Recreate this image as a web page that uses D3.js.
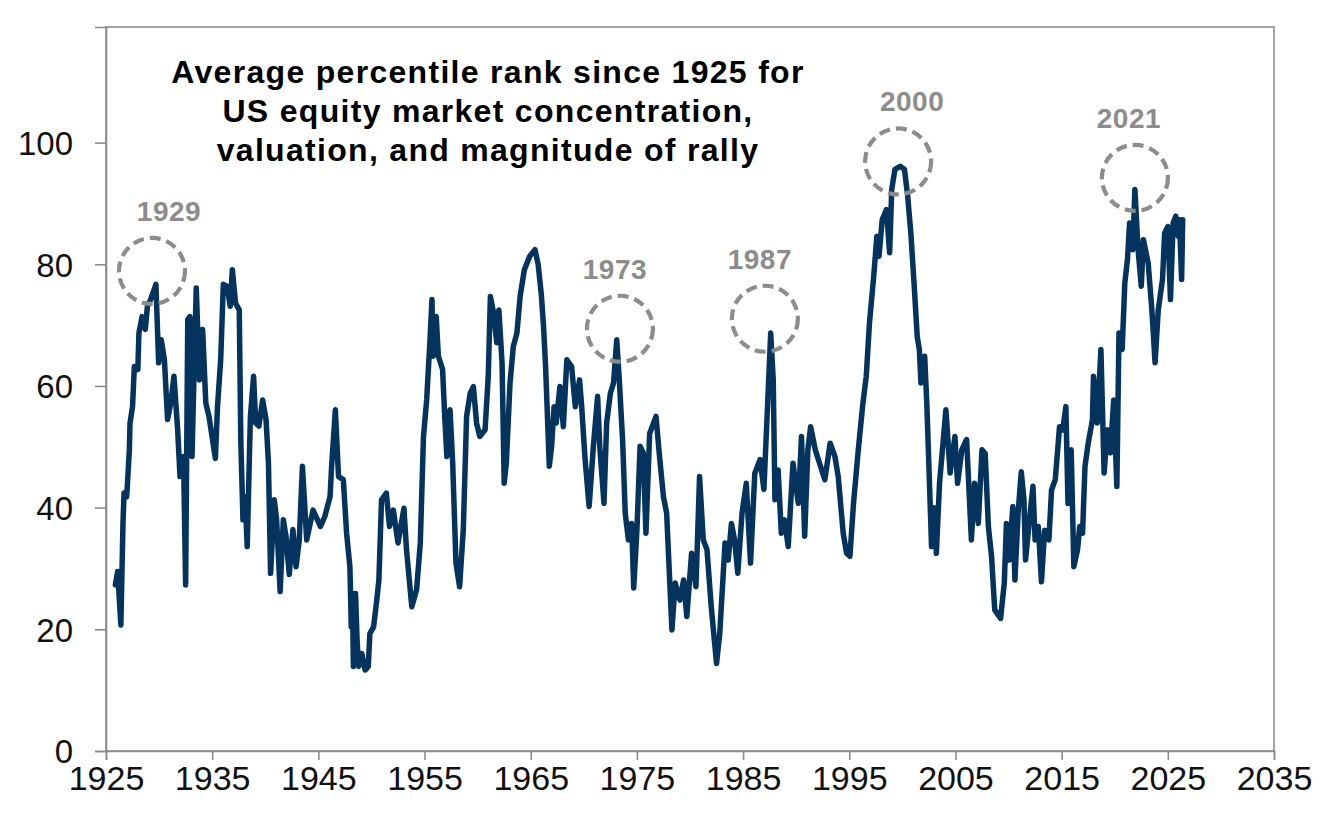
<!DOCTYPE html>
<html><head><meta charset="utf-8">
<script src="https://cdn.jsdelivr.net/npm/d3@7"></script>
<style>
html,body{margin:0;padding:0;background:#fff;}
svg{display:block;}
</style></head>
<body>
<svg id="chart" width="1327" height="815"></svg>
<script>
// ---- data ----
const titleLines = ["Average percentile rank since 1925 for", "US equity market concentration,", "valuation, and magnitude of rally"];
const xTicks = [1925, 1935, 1945, 1955, 1965, 1975, 1985, 1995, 2005, 2015, 2025, 2035];
const yTicks = [0, 20, 40, 60, 80, 100];
const points = [
[1925.88,27.3],[1926.1,29.5],[1926.4,20.7],[1926.6,37.5],[1926.7,42.4],[1926.95,41.8],[1927.2,49.5],[1927.26,53.9],[1927.5,56.6],[1927.67,63.2],[1928.0,62.7],[1928.1,68.7],[1928.4,71.4],[1928.7,69.3],[1928.9,73.1],[1929.2,74.2],[1929.7,76.7],[1929.96,63.8],[1930.2,67.6],[1930.5,64.3],[1930.8,54.5],[1931.1,57.2],[1931.4,61.6],[1931.75,52.8],[1931.97,45.1],[1932.3,48.4],[1932.5,27.3],[1932.7,70.9],[1932.9,71.4],[1933.1,48.4],[1933.3,62.7],[1933.5,76.1],[1933.8,61],[1934.1,69.3],[1934.4,57.2],[1934.7,55],[1935.3,48.1],[1935.5,56.6],[1935.8,64.3],[1936.05,76.7],[1936.4,76.4],[1936.7,73.1],[1936.9,79.1],[1937.2,73.6],[1937.55,72.5],[1937.7,50.6],[1937.9,38],[1938.1,41.8],[1938.3,33.6],[1938.6,55],[1938.9,61.6],[1939.1,53.9],[1939.4,53.4],[1939.75,57.7],[1940.07,54.5],[1940.3,47.3],[1940.5,29.2],[1940.85,41.3],[1941.07,38],[1941.4,26.2],[1941.7,38],[1941.95,35.3],[1942.26,29],[1942.6,36.4],[1942.9,30.3],[1943.2,34.7],[1943.5,46.8],[1943.9,34.7],[1944.5,39.6],
[1945.2,36.9],[1945.6,38.5],[1946.1,41.8],[1946.25,46.8],[1946.6,56.1],[1946.9,45.1],[1947.35,44.6],[1947.66,35.8],[1947.97,30.3],[1948.1,20.4],[1948.2,25.9],[1948.3,13.9],[1948.5,25.9],[1948.65,18],[1948.8,13.9],[1949.1,16],[1949.4,13.3],[1949.7,13.9],[1949.85,19.3],[1950.2,20.4],[1950.5,24.8],[1950.7,28.1],[1950.95,41.3],[1951.4,42.4],[1951.7,36.9],[1952.06,39.6],[1952.5,34.2],[1953.06,39.9],[1953.3,33.1],[1953.8,23.7],[1954.25,26.5],[1954.6,34.2],[1954.9,51.7],[1955.2,57.7],[1955.5,67.1],[1955.7,74.2],[1955.8,64.9],[1956.1,71.4],[1956.3,64.9],[1956.7,62.7],[1956.9,55],[1957.1,48.4],[1957.4,56.1],[1957.65,47.3],[1957.96,30.9],[1958.3,27],[1958.65,36.4],[1958.96,55],[1959.3,58.8],[1959.6,59.9],[1959.9,53.9],[1960.2,51.7],[1960.7,52.8],[1961.0,61.6],[1961.2,74.7],[1961.5,72],[1961.8,67.1],[1962.0,72.5],[1962.3,63.8],[1962.5,44],[1962.7,47.3],[1963.05,60.5],[1963.36,66.5],[1963.7,68.7],[1964.0,74.7],[1964.4,79.1],[1964.9,81.3],[1965.4,82.4],[1965.7,80],[1966.0,75],[1966.2,70],[1966.4,63.2],[1966.75,46.8],
[1966.97,50.1],[1967.2,56.6],[1967.4,53.9],[1967.75,59.9],[1968.07,53.3],[1968.4,64.3],[1968.85,63.2],[1969.2,56.6],[1969.6,61],[1969.8,56.6],[1970.1,48.4],[1970.5,40.2],[1970.9,50.1],[1971.3,58.3],[1971.5,50.1],[1971.9,40.7],[1972.15,53.9],[1972.5,58.8],[1972.8,60.5],[1973.1,67.6],[1973.34,61],[1973.65,51.2],[1973.9,39.1],[1974.2,34.7],[1974.5,37.4],[1974.7,26.8],[1975.0,36.3],[1975.3,50.1],[1975.6,49],[1975.85,35.8],[1976.2,52.2],[1976.8,55],[1977.1,49],[1977.5,41.8],[1977.8,39.1],[1978.3,19.9],[1978.6,27.6],[1979.05,24.8],[1979.4,28.1],[1979.7,22.1],[1980.15,32.5],[1980.56,27],[1980.9,45.1],[1981.25,34.7],[1981.6,33.1],[1982.0,23.7],[1982.5,14.4],[1982.8,19.3],[1983.3,34.2],[1983.6,31.4],[1983.9,37.4],[1984.2,34.7],[1984.5,29.2],[1984.9,39.1],[1985.3,44],[1985.7,30.9],[1986.1,45.6],[1986.6,47.9],[1986.96,43],[1987.3,56.6],[1987.6,68.7],[1987.84,61],[1988.0,41.3],[1988.3,46.2],[1988.6,35.8],[1988.9,38],[1989.25,33.6],
[1989.7,47.3],[1990.2,40.7],[1990.5,51.7],[1990.8,35.3],[1991.1,49.5],[1991.36,53.3],[1991.8,49.5],[1992.2,47.3],[1992.7,44.6],[1993.2,50.6],[1993.65,48.4],[1993.96,45.1],[1994.43,35.8],[1994.75,32.5],[1995.06,32],[1995.4,40.7],[1995.85,49.5],[1996.25,56.6],[1996.6,61.6],[1996.9,70.3],[1997.3,78],[1997.6,84.6],[1997.8,81.3],[1998.1,87.3],[1998.5,89],[1998.8,81.9],[1999.0,92.3],[1999.3,95.6],[1999.8,96.1],[2000.2,95.6],[2000.5,91.2],[2000.8,85.1],[2001.1,76.9],[2001.4,68.1],[2001.6,66],[2001.75,60.5],[2002.1,64.9],[2002.3,57.2],[2002.5,46.8],
[2002.75,33.6],[2003.0,40],[2003.2,32.5],[2003.5,44],[2004.1,56.1],[2004.5,45.7],[2004.95,51.7],[2005.2,44],[2005.6,49.5],[2006.05,51.2],[2006.5,34.7],[2006.8,44],[2007.15,37.4],[2007.5,49.5],[2007.8,48.9],[2008.1,36.9],[2008.4,32],[2008.7,23.2],[2009.25,21.8],[2009.6,27.6],[2009.8,37.4],[2010.06,31.4],[2010.4,40.2],[2010.6,28.1],[2010.9,39.1],[2011.2,45.9],[2011.45,41.3],[2011.6,31.4],[2012.0,38.5],[2012.3,43.5],[2012.5,34.7],[2012.8,36.9],[2013.1,27.8],[2013.4,36.3],[2013.8,34.7],[2014.05,42.9],[2014.4,44.6],[2014.8,53.3],[2015.1,52.8],[2015.4,56.6],[2015.6,40.7],[2015.9,49.5],[2016.15,30.3],[2016.5,33.1],[2016.7,36.9],[2016.97,35.8],[2017.2,46.8],[2017.5,50.6],[2017.9,54.4],[2018.0,61.6],[2018.35,53.9],[2018.7,66],[2019.0,45.7],[2019.3,52.8],[2019.6,49],[2019.9,57.7],[2020.2,43.5],[2020.4,68.7],[2020.7,66],[2020.95,76.9],[2021.2,80.8],[2021.4,86.8],[2021.7,82.4],[2021.9,92.3],[2022.2,82.4],[2022.5,76.4],[2022.7,84.05],[2023.15,80.2],[2023.5,72.5],[2023.8,63.8],[2024.1,72.5],[2024.5,77.5],[2024.7,85.1],[2025.0,86.2],[2025.25,74.2],[2025.5,86.8],[2025.75,87.9],[2025.97,84.6],[2026.1,87.3],[2026.3,77.5],[2026.4,87.3]
];
const years = points.map(p => p[0]);
const rank = points.map(p => p[1]);
// highlighted episodes: label, circle centre (year, value)
const episodeLabels = ["1929", "1973", "1987", "2000", "2021"];
const episodeYears = [1929.33, 1973.4, 1987.05, 1999.6, 2021.9];
const episodeValues = [78.9, 69.4, 71.05, 96.9, 94.2];

// ---- layout ----
const svg = d3.select("#chart");
const mLeft = 106, mRight = 1274, mTop = 27, mBottom = 751;
const x = d3.scaleLinear().domain([1925, 2035]).range([mLeft, mRight]);
const y = d3.scaleLinear().domain([0, 119]).range([mBottom, mTop]);
const axisColor = "#8c8c8c";
const font = "'Liberation Sans', Arial, sans-serif";

// frame
svg.append("rect").attr("x", mLeft).attr("y", mTop)
  .attr("width", mRight - mLeft).attr("height", mBottom - mTop)
  .attr("fill", "none").attr("stroke", axisColor).attr("stroke-width", 1.6);

// x axis
const xAxis = svg.append("g").attr("transform", `translate(0,${mBottom})`)
  .call(d3.axisBottom(x).tickValues(xTicks).tickFormat(d3.format("d")).tickSizeOuter(0).tickSize(9).tickPadding(6));
xAxis.select(".domain").attr("stroke", axisColor).attr("stroke-width", 1.6);
xAxis.selectAll(".tick line").attr("stroke", axisColor).attr("stroke-width", 1.6);
xAxis.selectAll(".tick text").attr("font-family", font).attr("font-size", 34).attr("fill", "#111").attr("dy", "0.72em");

// y axis
const yAxis = svg.append("g").attr("transform", `translate(${mLeft},0)`)
  .call(d3.axisLeft(y).tickValues(yTicks).tickSizeOuter(0).tickSize(11).tickPadding(22));
yAxis.select(".domain").attr("stroke", axisColor).attr("stroke-width", 1.6);
yAxis.selectAll(".tick line").attr("stroke", axisColor).attr("stroke-width", 1.6);
yAxis.selectAll(".tick text").attr("font-family", font).attr("font-size", 33).attr("fill", "#111").attr("dy", "0.36em");

// line
const line = d3.line().x((d, i) => x(years[i])).y((d, i) => y(rank[i]));
svg.append("path").datum(rank).attr("d", line)
  .attr("fill", "none").attr("stroke", "#04335e").attr("stroke-width", 5.5)
  .attr("stroke-linejoin", "round").attr("stroke-linecap", "round");

// episode circles and labels
const labelDx = [17, -5, -5, 14, -6];
episodeLabels.forEach((lab, i) => {
  const cx = x(episodeYears[i]), cy = y(episodeValues[i]);
  svg.append("circle").attr("cx", cx).attr("cy", cy).attr("r", 33)
    .attr("fill", "none").attr("stroke", "#8c8c8c").attr("stroke-width", 4.2)
    .attr("stroke-dasharray", "11,6");
  svg.append("text").attr("x", cx + labelDx[i]).attr("y", cy - 50)
    .attr("text-anchor", "middle").attr("font-family", font).attr("font-weight", "bold")
    .attr("font-size", 28).attr("letter-spacing", "0.5px").attr("fill", "#8c8c8c").text(lab);
});

// title
const titleBase = [83, 122, 161];
titleLines.forEach((t, i) => {
  svg.append("text").attr("x", 488).attr("y", titleBase[i]).attr("text-anchor", "middle")
    .attr("font-family", font).attr("font-weight", "bold").attr("font-size", 32)
    .attr("letter-spacing", "1.3px").attr("fill", "#000").text(t);
});
</script>
</body></html>
